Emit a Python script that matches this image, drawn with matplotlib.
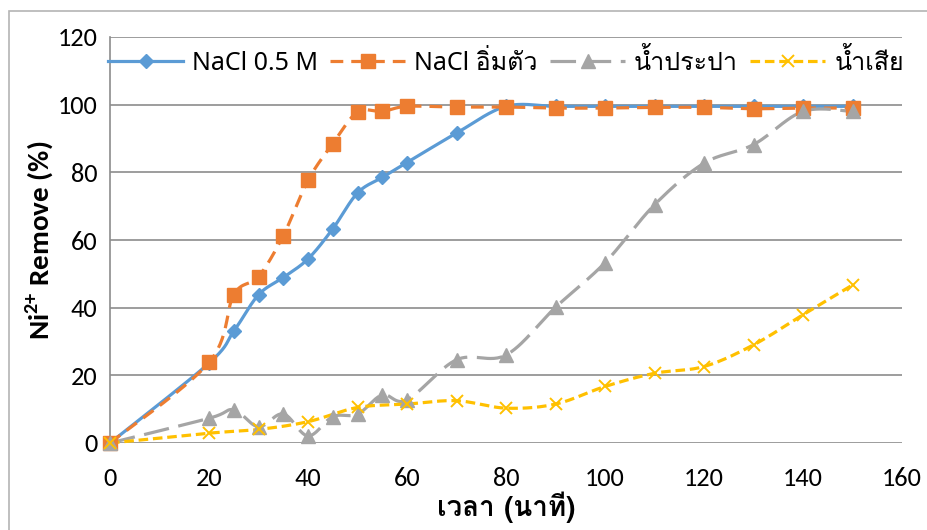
import numpy as np
import matplotlib
matplotlib.use("Agg")
import matplotlib.pyplot as plt
from matplotlib import font_manager as fm
from matplotlib.lines import Line2D
from matplotlib.patches import Rectangle

# --- data -------------------------------------------------------------
time_a = [0, 20, 25, 30, 35, 40, 45, 50, 55, 60, 70, 80, 90, 100, 110, 120, 130, 140, 150]
nacl_05m = [0, 23.6, 33.0, 43.8, 48.9, 54.4, 63.3, 73.9, 78.5, 82.9, 91.6, 99.5, 99.5, 99.5,
            99.5, 99.5, 99.5, 99.5, 99.5]
nacl_sat = [0, 23.8, 43.8, 49.2, 61.3, 77.6, 88.5, 97.8, 98.0, 99.5, 99.3, 99.3, 99.0, 99.0,
            99.2, 99.2, 98.8, 99.0, 99.0]
tap_water = [0, 7.3, 9.8, 4.8, 8.6, 2.1, 7.8, 8.5, 14.2, 12.7, 24.6, 26.0, 40.1, 53.3,
             70.4, 82.7, 88.2, 98.0, 98.0]
time_w = [0, 20, 30, 40, 50, 60, 70, 80, 90, 100, 110, 120, 130, 140, 150]
waste_water = [0, 2.9, 4.0, 6.3, 10.5, 11.5, 12.5, 10.3, 11.5, 16.7, 20.6, 22.6, 29.0, 37.9, 46.7]

labels = ["NaCl 0.5 M", "NaCl อิ่มตัว", "น้ำประปา", "น้ำเสีย"]
x_ticks = [0, 20, 40, 60, 80, 100, 120, 140, 160]
y_ticks = [0, 20, 40, 60, 80, 100, 120]

# --- fonts -------------------------------------------------------------
available = {f.name for f in fm.fontManager.ttflist}


def pick(*names):
    for n in names:
        if n in available:
            return n
    return "DejaVu Sans"


thai = pick("Loma", "Noto Sans Thai Looped", "Noto Sans Thai", "Sarabun")
narrow = pick("Carlito", "Lato", "Open Sans", "Noto Sans")
latin = pick("Noto Sans", "Open Sans")
plt.rcParams["font.family"] = [latin, thai, "DejaVu Sans"]
plt.rcParams["mathtext.fontset"] = "custom"
plt.rcParams["mathtext.rm"] = narrow
plt.rcParams["mathtext.bf"] = narrow + ":bold"


def smooth(x, y, n=30):
    """Cubic Bezier smoothing through every point (Catmull-Rom style)."""
    x = np.asarray(x, float)
    y = np.asarray(y, float)
    px = np.concatenate([[x[0]], x, [x[-1]]])
    py = np.concatenate([[y[0]], y, [y[-1]]])
    t = np.linspace(0, 1, n)[:, None]
    xs, ys = [], []
    for i in range(1, len(px) - 2):
        p0 = np.array([px[i], py[i]])
        p3 = np.array([px[i + 1], py[i + 1]])
        c1 = p0 + (np.array([px[i + 1], py[i + 1]]) - np.array([px[i - 1], py[i - 1]])) / 6
        c2 = p3 - (np.array([px[i + 2], py[i + 2]]) - np.array([px[i], py[i]])) / 6
        pts = ((1 - t) ** 3) * p0 + 3 * ((1 - t) ** 2) * t * c1 + 3 * (1 - t) * t ** 2 * c2 + t ** 3 * p3
        xs.append(pts[:, 0])
        ys.append(pts[:, 1])
    return np.concatenate(xs), np.concatenate(ys)


fig = plt.figure(figsize=(9.27, 5.30), dpi=100)
# outer chart frame (left and top edges)
fig.patches.append(Rectangle((9 / 927, -0.5), 1.5, 0.5 + (1 - 11 / 530), transform=fig.transFigure,
                             fill=False, edgecolor="#B4B4B4", lw=1.2))
ax = fig.add_axes([110 / 927, 1 - 443 / 530, 792 / 927, 406 / 530])

LW = 2.3
series = [
    (time_a, nacl_05m, "#5B9BD5", "D", 6.8, "solid"),
    (time_a, nacl_sat, "#ED7D31", "s", 9.5, (0, (4, 2.5))),
    (time_a, tap_water, "#A5A5A5", "^", 9.5, (0, (8, 3))),
    (time_w, waste_water, "#FFC000", "x", 8, (0, (3, 1.5))),
]
handles = []
for xs, ys, col, mk, ms, dash in series:
    sx, sy = smooth(xs, ys)
    ax.plot(sx, sy, color=col, lw=LW, linestyle=dash, zorder=3, clip_on=False)
    mew = 1.4 if mk == "x" else 1
    ax.plot(xs, ys, linestyle="none", marker=mk, ms=ms, color=col, mec=col, mew=mew,
            zorder=4, clip_on=False)
    handles.append(Line2D([], [], color=col, lw=LW, linestyle=dash, marker=mk, ms=ms,
                          mec=col, mew=mew))

ax.set_xlim(0, 160)
ax.set_ylim(0, 120)
ax.set_xticks(x_ticks)
ax.set_yticks(y_ticks)
ax.tick_params(length=0, labelsize=19)
ax.tick_params(axis="y", pad=9)
ax.tick_params(axis="x", pad=17)
for lab in ax.get_xticklabels() + ax.get_yticklabels():
    lab.set_fontfamily([narrow, "DejaVu Sans"])
ax.grid(axis="y", color="#8C8C8C", lw=1.2)
ax.set_axisbelow(True)
for s in ["top", "right", "bottom"]:
    ax.spines[s].set_visible(False)
ax.spines["left"].set_color("#8C8C8C")
ax.spines["left"].set_linewidth(1.2)

ax.set_ylabel(r"Ni$^{\mathbf{2{+}}}$ Remove (%)", fontsize=21, fontweight="bold",
              family=[narrow, "DejaVu Sans"], va="center")
ax.yaxis.set_label_coords(-70 / 792, 0.5)
ax.set_xlabel("เวลา (นาที)", fontsize=20, fontweight="bold", family=[thai, latin, "DejaVu Sans"],
              va="center")
ax.xaxis.set_label_coords(0.5, -64 / 406)

ax.legend(handles=handles, labels=labels, loc="center", bbox_to_anchor=(0.5, 0.938),
          ncol=4, frameon=False, handlelength=3.0, handletextpad=0.35,
          columnspacing=0.5, prop={"family": [latin, thai, "DejaVu Sans"], "size": 18})

fig.savefig("out.png", dpi=100)
